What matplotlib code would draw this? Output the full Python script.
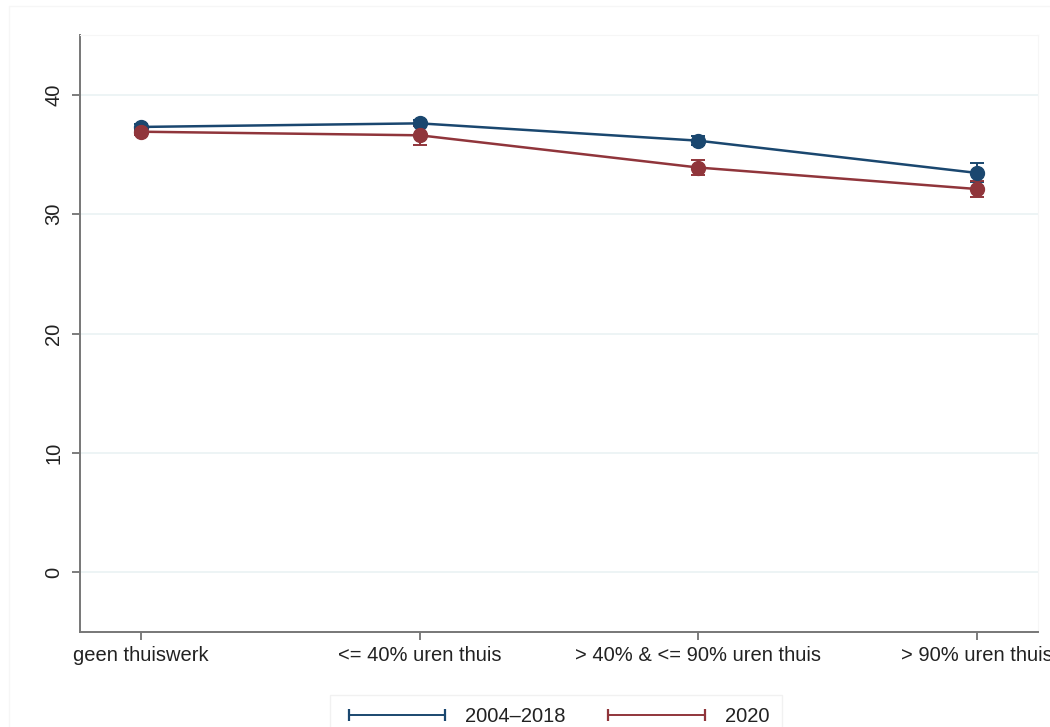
import numpy as np
import matplotlib.pyplot as plt
from matplotlib.patches import Rectangle
from matplotlib.lines import Line2D

# categories on the x axis
categories = ["geen thuiswerk", "<= 40% uren thuis",
              "> 40% & <= 90% uren thuis", "> 90% uren thuis"]

# mean values and half-widths of the confidence intervals
mean_0418 = [37.3, 37.6, 36.15, 33.45]
ci_0418 = [0.25, 0.25, 0.4, 0.8]
mean_2020 = [36.9, 36.6, 33.9, 32.1]
ci_2020 = [0.3, 0.8, 0.65, 0.65]

series_labels = ["2004\u20132018", "2020"]
navy = "#1a476f"
maroon = "#90353b"
fs = 14.5

plt.rcParams['font.family'] = ['Liberation Sans', 'DejaVu Sans']

fig = plt.figure(figsize=(10.5, 7.27), dpi=100)
fig.patches.append(Rectangle((9 / 1050, -0.01), 1.0, 1 - 6 / 727 + 0.01,
                             transform=fig.transFigure, fill=False,
                             edgecolor="#f6f6f6", lw=1.0, zorder=0))
ax = fig.add_axes([80 / 1050, 1 - 632 / 727, 958 / 1050, 597 / 727])

x = np.arange(len(categories))
for vals, ci, col, lab in [(mean_0418, ci_0418, navy, series_labels[0]),
                           (mean_2020, ci_2020, maroon, series_labels[1])]:
    ax.errorbar(x, vals, yerr=ci, color=col, ecolor=col, lw=1.8,
                elinewidth=1.4, capsize=5, capthick=1.4, marker='o',
                markersize=10, label=lab, zorder=3)

ax.set_xlim(-0.22, 3.22)
ax.set_ylim(-5, 45)
ax.set_yticks([0, 10, 20, 30, 40])
ax.set_xticks(x)
ax.set_xticklabels(categories, fontsize=fs, color="#222222")
for t in ax.get_yticklabels():
    t.set_rotation(90)
    t.set_va('center')
    t.set_fontsize(fs)
    t.set_color("#222222")
ax.tick_params(axis='both', colors="#666666", length=6, width=1.2,
               labelcolor="#222222")
ax.tick_params(axis='y', pad=6)
ax.tick_params(axis='x', pad=4)
ax.grid(axis='y', color="#eaf2f3", lw=1.2)
ax.set_axisbelow(True)
for side in ['top', 'right']:
    ax.spines[side].set_color("#f6f6f6")
for side in ['left', 'bottom']:
    ax.spines[side].set_color("#777777")
    ax.spines[side].set_linewidth(1.4)

# legend entries are drawn as bars with end caps
handles = [Line2D([0], [0], color=c, lw=1.4, marker='|', markersize=9,
                  markeredgewidth=1.6)
           for c in (navy, maroon)]
leg = fig.legend(handles, series_labels, loc='lower center', numpoints=2,
                 bbox_to_anchor=(556 / 1050, -0.029), ncol=2, fontsize=fs,
                 handlelength=5.4, columnspacing=1.8, handletextpad=0.7,
                 frameon=True, fancybox=False, edgecolor="#eeeeee",
                 borderpad=0.6)
leg.get_frame().set_linewidth(1.0)
for txt in leg.get_texts():
    txt.set_color("#222222")

fig.savefig("out.png", dpi=100)
